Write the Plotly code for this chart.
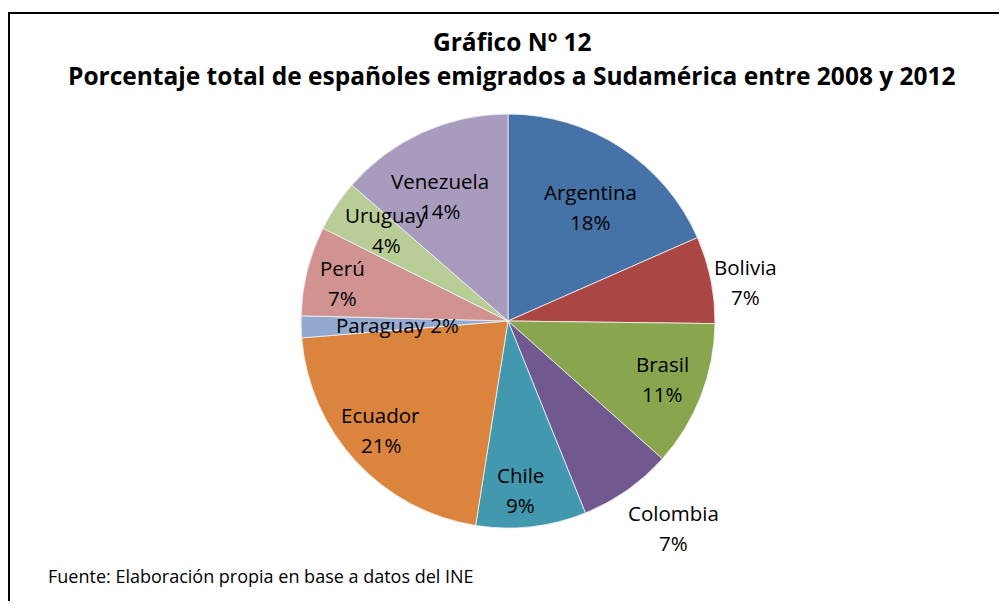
import math
import plotly.graph_objects as go

countries = ["Argentina", "Bolivia", "Brasil", "Colombia", "Chile",
             "Ecuador", "Paraguay", "Perú", "Uruguay", "Venezuela"]
shares = [18.4, 6.8, 11.4, 7.3, 8.6, 21.2, 1.7, 7.0, 4.0, 13.6]
colors = ["#4572A7", "#AA4643", "#89A54E", "#71588F", "#4198AF",
          "#DB843D", "#93A9CF", "#D19392", "#B9CD96", "#A99BBD"]
# label placement: radial position (fraction of radius) and angular nudge (degrees)
label_r = [0.68, 1.165, 0.795, 1.28, 0.818, 0.81, 0.536, 0.82, 0.735, 0.687]
label_dang = [2.6, 2.2, -0.6, -3.6, 2.4, 2.2, -0.5, -1.1, 2.9, -4.0]
one_line = [False, False, False, False, False, False, True, False, False, False]

title1 = "Gráfico Nº 12"
title2 = "Porcentaje total de españoles emigrados a Sudamérica entre 2008 y 2012"
source = "Fuente: Elaboración propia en base a datos del INE"

OFF = 8                      # page body margin
W, H = 1007 - 2 * OFF, 609 - 2 * OFF
FONT = "Open Sans, sans-serif"
cx, cy, R = 508 - OFF, 321 - OFF, 207  # pie center and radius in pixels (figure coords)


def px2paper(x, y):
    return x / W, 1 - y / H


fig = go.Figure(go.Pie(
    labels=countries, values=shares, sort=False, direction="clockwise",
    rotation=0, textinfo="none", hoverinfo="label+percent",
    marker=dict(colors=colors, line=dict(color="#f4f4f4", width=0.8)),
    domain=dict(x=[(cx - R) / W, (cx + R) / W], y=[1 - (cy + R) / H, 1 - (cy - R) / H]),
    showlegend=False,
))


def ann(x, y, text, size, yshift=0, xanchor="center", bold=False):
    ax, ay = px2paper(x, y)
    return dict(x=ax, y=ay, yshift=yshift, text=f"<b>{text}</b>" if bold else text,
                showarrow=False, xref="paper", yref="paper",
                xanchor=xanchor, yanchor="middle",
                font=dict(size=size, color="black", family=FONT))


total = sum(shares)
annotations = []
cum = 0.0
LS = 20.5
for name, v, rf, da, single in zip(countries, shares, label_r, label_dang, one_line):
    mid = (cum + v / 2) / total * 2 * math.pi + math.radians(da)
    cum += v
    px = cx + rf * R * math.sin(mid)
    py = cy - rf * R * math.cos(mid)
    pct = f"{round(v / total * 100)}%"
    if single:
        annotations.append(ann(px, py, f"{name} {pct}", LS))
    else:
        annotations.append(ann(px, py, name, LS, yshift=15))
        annotations.append(ann(px, py, pct, LS, yshift=-15))

annotations.append(ann(512 - OFF, 41 - OFF, title1, 24.5, bold=True))
annotations.append(ann(512 - OFF, 76 - OFF, title2, 24.5, bold=True))
annotations.append(ann(46 - OFF, 576 - OFF, source, 18, xanchor="left"))

shapes = [
    dict(type="rect", xref="paper", yref="paper", x0=1 / W, x1=1.05, y0=-0.05, y1=1 - 5 / H,
         line=dict(color="black", width=2), fillcolor="white", layer="below"),
]

fig.update_layout(
    width=W, height=H, margin=dict(l=0, r=0, t=0, b=0),
    paper_bgcolor="white", plot_bgcolor="white",
    annotations=annotations, shapes=shapes,
    font=dict(family=FONT),
)
fig.write_html("out.html")
